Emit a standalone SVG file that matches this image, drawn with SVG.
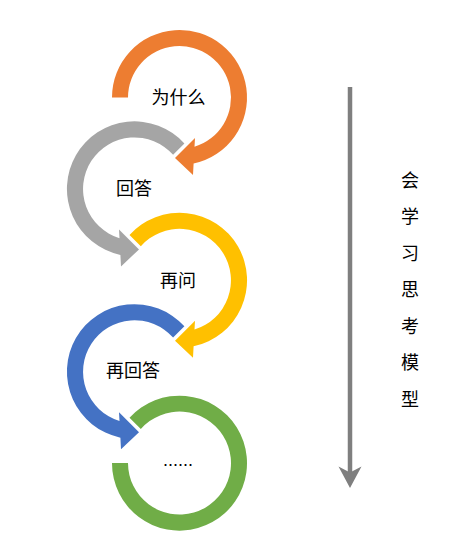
<svg xmlns="http://www.w3.org/2000/svg" width="475" height="550" viewBox="0 0 475 550">
  <style>
    .lbl { font-family: "Noto Sans CJK SC", "Liberation Sans", sans-serif; font-size: 18px; fill: #000000; text-anchor: middle; }
    .dots { font-family: "Liberation Sans", sans-serif; font-size: 18px; fill: #000000; text-anchor: middle; }
  </style>
  <rect width="475" height="550" fill="#ffffff"/>
  <g id="node-why">
    <path d="M112,97.5 A67.5,67.5 0 1 1 193.6,163.5 L193,175 L175,158 L195,138 L194.5,146.8 A51.5,51.5 0 1 0 128,97.5 Z" fill="#ED7D31"/>
    <text class="lbl" x="178.5" y="104">为什么</text>
  </g>
  <g id="node-answer">
    <path d="M184.4,143.5 A67.5,67.5 0 1 0 120.4,254.9 L121,266.4 L139,249.4 L119,229.4 L119.5,238.2 A51.5,51.5 0 1 1 173.1,154.8 Z" fill="#A5A5A5"/>
    <text class="lbl" x="134" y="194.5">回答</text>
  </g>
  <g id="node-ask-again">
    <path d="M129.5,235 A67.5,67.5 0 1 1 193.6,346.3 L193,357.8 L175,340.8 L195,320.8 L194.5,329.6 A51.5,51.5 0 1 0 140.8,246.3 Z" fill="#FFC000"/>
    <text class="lbl" x="178" y="287">再问</text>
  </g>
  <g id="node-answer-again">
    <path d="M184.4,326.3 A67.5,67.5 0 1 0 120.4,437.7 L121,449.2 L139,432.2 L119,412.2 L119.5,421 A51.5,51.5 0 1 1 173.1,337.6 Z" fill="#4472C4"/>
    <text class="lbl" x="133" y="377">再回答</text>
  </g>
  <g id="node-more">
    <path d="M129.5,417.8 A67.5,67.5 0 1 1 112,463.1 L128,463.1 A51.5,51.5 0 1 0 140.8,429.1 Z" fill="#70AD47"/>
    <text class="dots" x="178" y="465.5">......</text>
  </g>
  <g id="connectors">
    <line x1="350" y1="87" x2="350" y2="474" stroke="#7F7F7F" stroke-width="4.5"/>
    <path d="M338.5,466.5 L350,488 L361.5,466.5 L350,472.5 Z" fill="#7F7F7F"/>
  </g>
  <g id="node-title">
    <text class="lbl" x="410" y="186.5">会</text>
    <text class="lbl" x="410" y="223">学</text>
    <text class="lbl" x="410" y="259.5">习</text>
    <text class="lbl" x="410" y="296">思</text>
    <text class="lbl" x="410" y="332.5">考</text>
    <text class="lbl" x="410" y="369">模</text>
    <text class="lbl" x="410" y="405.5">型</text>
  </g>
</svg>
